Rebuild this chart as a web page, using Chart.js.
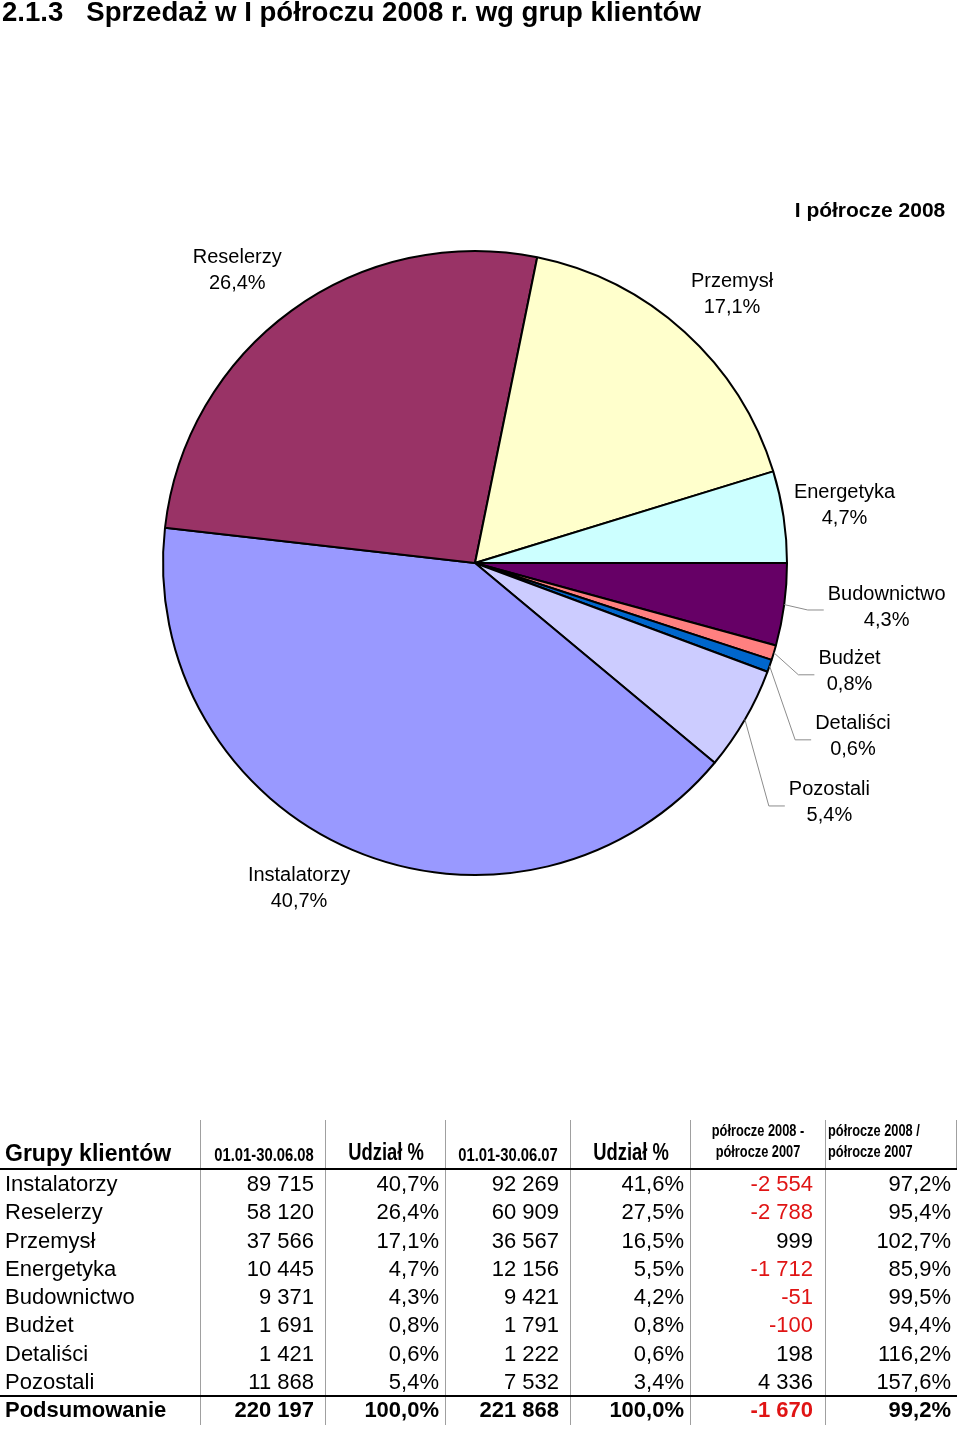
<!DOCTYPE html>
<html><head><meta charset="utf-8">
<script src="https://cdn.jsdelivr.net/npm/chart.js@4.4.1/dist/chart.umd.min.js"></script>
<style>
html,body{margin:0;padding:0;background:#fff;}
body{width:960px;height:1429px;position:relative;overflow:hidden;font-family:"Liberation Sans",Arial,sans-serif;}
#title{position:absolute;left:2px;top:-5px;font-weight:bold;font-size:28px;line-height:34px;white-space:pre;color:#000;transform:scaleX(0.985);transform-origin:0 0;}
#pieWrap{position:absolute;left:0;top:0;width:960px;height:1110px;}
#table{position:absolute;left:0;top:0;width:960px;height:1429px;}
.c{position:absolute;white-space:pre;color:#000;}
.narrow{font-weight:bold;transform:scaleX(0.8);}
.narrow.ctr{transform-origin:50% 50%;}
.narrow.lft{transform-origin:0 50%;}
</style></head>
<body>
<div id="pieWrap"><canvas id="pie"></canvas></div>
<div id="title">2.1.3   Sprzedaż w I półroczu 2008 r. wg grup klientów</div>
<div id="table"></div>
<script>
// ---------- DATA ----------
const chartTitle = 'I półrocze 2008';
const categories = ['Instalatorzy','Reselerzy','Przemysł','Energetyka','Budownictwo','Budżet','Detaliści','Pozostali'];
const sales2008 = [89715, 58120, 37566, 10445, 9371, 1691, 1421, 11868];
const share2008 = [40.7, 26.4, 17.1, 4.7, 4.3, 0.8, 0.6, 5.4];
const sales2007 = [92269, 60909, 36567, 12156, 9421, 1791, 1222, 7532];
const share2007 = [41.6, 27.5, 16.5, 5.5, 4.2, 0.8, 0.6, 3.4];
const diffValues = [-2554, -2788, 999, -1712, -51, -100, 198, 4336];
const ratioValues = [97.2, 95.4, 102.7, 85.9, 99.5, 94.4, 116.2, 157.6];
const totalLabel = 'Podsumowanie';
const totalRow = [220197, 100.0, 221868, 100.0, -1670, 99.2];
const headerFirst = 'Grupy klientów';
const headerCols = ['01.01-30.06.08', 'Udział %', '01.01-30.06.07', 'Udział %', 'półrocze 2008 -\npółrocze 2007', 'półrocze 2008 /\npółrocze 2007'];
// order of slices clockwise starting at 3 o'clock
const pieOrder = ['Budownictwo','Budżet','Detaliści','Pozostali','Instalatorzy','Reselerzy','Przemysł','Energetyka'];

// ---------- STYLE / LAYOUT ----------
const sliceColors = {
  'Instalatorzy':'#9999FF','Reselerzy':'#993366','Przemysł':'#FFFFCC','Energetyka':'#CCFFFF',
  'Budownictwo':'#660066','Budżet':'#FF8080','Detaliści':'#0066CC','Pozostali':'#CCCCFF'
};
// label placement: angle (deg, clockwise from 3 o'clock), distance from centre, leader line
const labelPlacement = {
  'Reselerzy':{a:230.9,d:377,leader:false},
  'Przemysł':{a:313.7,d:372,leader:false},
  'Energetyka':{a:351.1,d:374,leader:false},
  'Instalatorzy':{a:118.4,d:370,leader:false},
  'Budownictwo':{a:6.1,d:414,leader:true},
  'Budżet':{a:16.2,d:390,leader:true},
  'Detaliści':{a:24.7,d:416,leader:true},
  'Pozostali':{a:34.1,d:428,leader:true}
};

const fmtPct = v => v.toFixed(1).replace('.', ',') + '%';
const fmtNum = v => {
  const s = Math.abs(v).toString().replace(/\B(?=(\d{3})+(?!\d))/g, ' ');
  return (v < 0 ? '-' : '') + s;
};

// ---------- PIE ----------
const pieIdx = pieOrder.map(n => categories.indexOf(n));
const labelPlugin = {
  id: 'pieLabels',
  afterDatasetsDraw(chart) {
    const ctx = chart.ctx;
    const meta = chart.getDatasetMeta(0);
    ctx.save();
    ctx.font = '20px "Liberation Sans", Arial, sans-serif';
    ctx.textAlign = 'center';
    ctx.textBaseline = 'middle';
    meta.data.forEach((arc, i) => {
      const p = arc.getProps(['x','y','startAngle','endAngle','outerRadius'], true);
      const name = pieOrder[i];
      const ci = categories.indexOf(name);
      const pl = labelPlacement[name];
      const a = pl.a * Math.PI / 180;
      const cx = p.x + pl.d * Math.cos(a);
      const cy = p.y + pl.d * Math.sin(a);
      const l1 = name, l2 = fmtPct(share2008[ci]);
      if (pl.leader) {
        const w = Math.max(ctx.measureText(l1).width, ctx.measureText(l2).width);
        const left = cx - w / 2;
        const mid = (p.startAngle + p.endAngle) / 2;
        ctx.strokeStyle = '#8c8c8c';
        ctx.lineWidth = 1;
        ctx.beginPath();
        ctx.moveTo(p.x + p.outerRadius * Math.cos(mid), p.y + p.outerRadius * Math.sin(mid));
        ctx.lineTo(left - 20, cy + 3);
        ctx.lineTo(left - 4, cy + 3);
        ctx.stroke();
      }
      ctx.fillStyle = '#000';
      ctx.fillText(l1, cx, cy - 13);
      ctx.fillText(l2, cx, cy + 13);
    });
    ctx.font = 'bold 21px "Liberation Sans", Arial, sans-serif';
    ctx.fillText(chartTitle, 870, 211);
    ctx.restore();
  }
};

new Chart(document.getElementById('pie'), {
  type: 'pie',
  data: {
    labels: pieOrder,
    datasets: [{
      data: pieIdx.map(i => sales2008[i]),
      backgroundColor: pieOrder.map(n => sliceColors[n]),
      borderColor: '#000',
      borderWidth: 2
    }]
  },
  options: {
    responsive: true,
    maintainAspectRatio: false,
    animation: false,
    rotation: 90,
    radius: 312,
    layout: { padding: { left: 163, right: 173, top: 251, bottom: 235 } },
    plugins: { legend: { display: false }, tooltip: { enabled: false }, title: { display: false } }
  },
  plugins: [labelPlugin]
});

// ---------- TABLE ----------
const tbl = document.getElementById('table');
function cell(text, opts) {
  const d = document.createElement('div');
  d.className = 'c' + (opts.cls ? ' ' + opts.cls : '');
  d.textContent = text;
  const s = d.style;
  s.top = (opts.cy - opts.lh / 2) + 'px';
  s.lineHeight = opts.lh + 'px';
  s.fontSize = opts.fs + 'px';
  if (opts.bold) s.fontWeight = 'bold';
  if (opts.color) s.color = opts.color;
  if (opts.align === 'right') { s.right = (960 - opts.x) + 'px'; s.textAlign = 'right'; }
  else if (opts.align === 'center') { s.left = (opts.x - 100) + 'px'; s.width = '200px'; s.textAlign = 'center'; }
  else { s.left = opts.x + 'px'; }
  tbl.appendChild(d);
}
function line(x, y, w, h, color) {
  const d = document.createElement('div');
  d.style.cssText = `position:absolute;left:${x}px;top:${y}px;width:${w}px;height:${h}px;background:${color};`;
  tbl.appendChild(d);
}
const colRight = [314, 439, 559, 684, 813, 951];
const vLines = [200, 325, 445, 570, 690, 825];
vLines.forEach(x => line(x, 1120, 1, 305, '#a0a0a0'));
line(956, 1120, 1, 48, '#a0a0a0');
line(0, 1168, 957, 2, '#000');
line(0, 1395, 957, 2, '#000');

// header
cell(headerFirst, {x:5, cy:1153, lh:28, fs:23, bold:true});
cell(headerCols[0], {x:264, cy:1155, lh:22, fs:18.5, cls:'narrow ctr', align:'center'});
cell(headerCols[1], {x:386, cy:1152, lh:28, fs:23, cls:'narrow ctr', align:'center'});
cell(headerCols[2], {x:508, cy:1155, lh:22, fs:18.5, cls:'narrow ctr', align:'center'});
cell(headerCols[3], {x:631, cy:1152, lh:28, fs:23, cls:'narrow ctr', align:'center'});
headerCols[4].split('\n').forEach((t, k) => cell(t, {x:758, cy:1131 + k * 21, lh:20, fs:16, cls:'narrow ctr', align:'center'}));
headerCols[5].split('\n').forEach((t, k) => cell(t, {x:828, cy:1131 + k * 21, lh:20, fs:16, cls:'narrow lft'}));

const rowY = k => 1184 + k * 28.25;
const red = '#e01414';
categories.forEach((name, k) => {
  const cy = rowY(k);
  cell(name, {x:5, cy, lh:28, fs:22});
  const vals = [fmtNum(sales2008[k]), fmtPct(share2008[k]), fmtNum(sales2007[k]), fmtPct(share2007[k]), fmtNum(diffValues[k]), fmtPct(ratioValues[k])];
  vals.forEach((t, j) => cell(t, {x:colRight[j], cy, lh:28, fs:22, align:'right', color: (j === 4 && diffValues[k] < 0) ? red : null}));
});
{
  const cy = rowY(8);
  cell(totalLabel, {x:5, cy, lh:28, fs:22, bold:true});
  const vals = [fmtNum(totalRow[0]), fmtPct(totalRow[1]), fmtNum(totalRow[2]), fmtPct(totalRow[3]), fmtNum(totalRow[4]), fmtPct(totalRow[5])];
  vals.forEach((t, j) => cell(t, {x:colRight[j], cy, lh:28, fs:22, bold:true, align:'right', color: (j === 4 && totalRow[4] < 0) ? red : null}));
}
</script>
</body></html>
